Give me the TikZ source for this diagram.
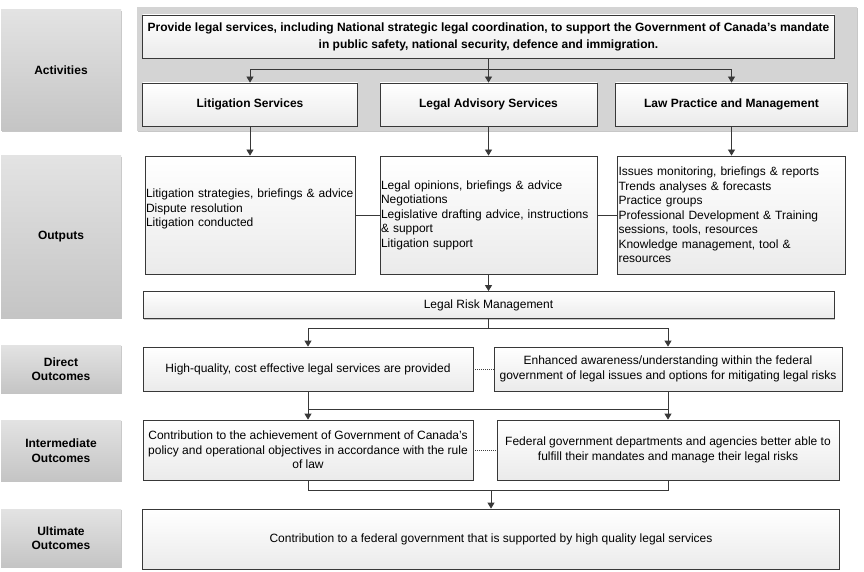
\documentclass[tikz,border=0pt]{standalone}
\usepackage{fontspec}
\setmainfont{Liberation Sans}
\usetikzlibrary{arrows.meta,shadows,positioning}

\begin{document}
\begin{tikzpicture}[x=1pt,y=-1pt,>={Triangle[length=6pt,width=7pt]},
lab/.style={top color=black!11, bottom color=black!23, minimum width=120pt, inner sep=0pt,
  align=center, font=\fontsize{12}{14.5}\selectfont\bfseries,
  drop shadow={shadow xshift=1pt,shadow yshift=-1pt,fill=black!22,opacity=1}},
box/.style={draw=black!78, line width=0.8pt, top color=white, bottom color=black!8,
  inner sep=2pt, font=\fontsize{12}{14.5}\selectfont},
head/.style={box, font=\fontsize{12}{14.5}\selectfont\bfseries},
list/.style={box, inner sep=1pt, minimum height=118pt, align=left},
link/.style={draw=black!78, line width=0.8pt},
tie/.style={draw=black!75, line width=1pt, densely dotted}]
\useasboundingbox (0,0) rectangle (864,572);

% left column
\node[lab, minimum height=121pt] (act) at (61,70.5) {Activities};
\node[lab, minimum height=162pt] (outp) at (61,237) {Outputs};
\node[lab, minimum height=48pt] (dir) at (61,369) {Direct\\Outcomes};
\node[lab, minimum height=61pt] (inter) at (61,450.5) {Intermediate\\Outcomes};
\node[lab, minimum height=58pt] (ult) at (61,538) {Ultimate\\Outcomes};

% activities
\node[fill=black!17, minimum width=720pt, minimum height=124pt, inner sep=0pt,
  drop shadow={shadow xshift=1pt,shadow yshift=-1pt,fill=black!22,opacity=1}] (actbg) at (497,69) {};
\node[head, minimum width=692pt, minimum height=43pt, align=center,
  font=\fontsize{12}{17}\selectfont\bfseries] (top) at (488.5,36.5)
  {Provide legal services, including National strategic legal coordination, to support the Government of Canada's mandate\\
   in public safety, national security, defence and immigration.};
\node[head, minimum width=215pt, minimum height=43pt] (lit) at (250,104.5) {Litigation Services};
\node[head, minimum width=217pt, minimum height=43pt] (adv) at (488.5,104.5) {Legal Advisory Services};
\node[head, minimum width=232pt, minimum height=43pt] (law) at (731.5,104.5) {Law Practice and Management};

% outputs
\node[list, minimum width=210pt, text width=208pt] (litout) at (250,215)
  {Litigation strategies, briefings \& advice\\ Dispute resolution\\ Litigation conducted\\ \mbox{}};
\node[list, minimum width=217pt, text width=215pt] (advout) at (488.5,215)
  {Legal opinions, briefings \& advice\\ Negotiations\\ Legislative drafting advice, instructions\\ \& support\\ Litigation support};
\node[list, minimum width=228pt, text width=226pt] (lawout) at (731.5,215)
  {Issues monitoring, briefings \& reports\\ Trends analyses \& forecasts\\ Practice groups\\
   Professional Development \& Training\\ sessions, tools, resources\\ Knowledge management, tool \&\\ resources};
\node[box, minimum width=691pt, minimum height=27pt,
  drop shadow={shadow xshift=1pt,shadow yshift=-1pt,fill=black!22,opacity=1}] (lrm) at (488.5,305) {Legal Risk Management};

% outcomes
\node[box, minimum width=330pt, minimum height=44pt] (d1) at (308,369) {High-quality, cost effective legal services are provided};
\node[box, minimum width=348pt, minimum height=44pt, align=center] (d2) at (668,369)
  {Enhanced awareness/understanding within the federal\\ government of legal issues and options for mitigating legal risks};
\node[box, minimum width=330pt, minimum height=60pt, align=center] (i1) at (308,450)
  {Contribution to the achievement of Government of Canada's\\ policy and operational objectives in accordance with the rule\\ of law};
\node[box, minimum width=342pt, minimum height=60pt, align=center] (i2) at (668,450)
  {Federal government departments and agencies better able to\\ fulfill their mandates and manage their legal risks};
\node[box, minimum width=697pt, minimum height=60pt] (u) at (491,539)
  {Contribution to a federal government that is supported by high quality legal services};

% junctions
\coordinate (j1) at (488.5,69);
\coordinate (j2) at (488.5,328);
\coordinate (j3) at (308,409);
\coordinate (j4) at (668,409);
\coordinate (j5) at (491,490);

\begin{scope}[link]
\draw (top.south) -- (j1);
\draw[->] (j1) -| (lit.north);
\draw[->] (j1) -- (adv.north);
\draw[->] (j1) -| (law.north);
\draw[->] (lit.south) -- (litout.north);
\draw[->] (adv.south) -- (advout.north);
\draw[->] (law.south) -- (lawout.north);
\draw (litout.east) -- (advout.west);
\draw (advout.east) -- (lawout.west);
\draw[->] (advout.south) -- (lrm.north);
\draw (lrm.south) -- (j2);
\draw[->] (j2) -| (d1.north);
\draw[->] (j2) -| (d2.north);
\draw[->] (d1.south) -- (i1.north);
\draw[->] (d2.south) -- (i2.north);
\draw (j3) -- (j4);
\draw (i1.south) |- (j5);
\draw (i2.south) |- (j5);
\draw[->] (j5) -- (u.north);
\end{scope}
\draw[tie] (d1.east) -- (d2.west);
\draw[tie] (i1.east) -- (i2.west);
\end{tikzpicture}
\end{document}
